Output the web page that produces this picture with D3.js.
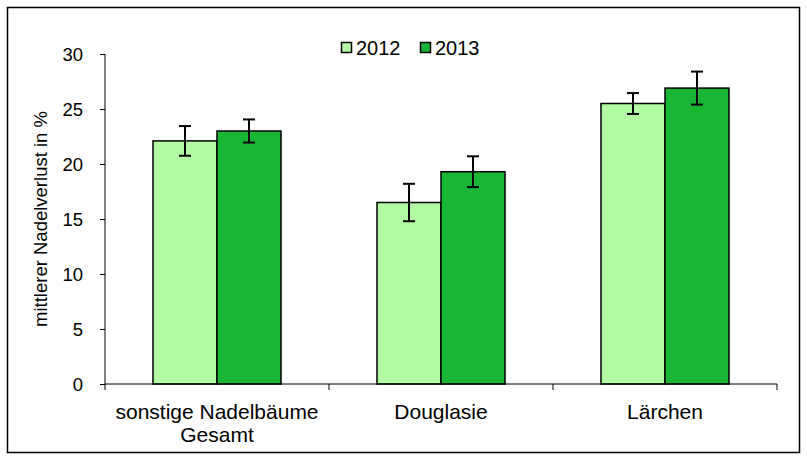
<!DOCTYPE html>
<html>
<head>
<meta charset="utf-8">
<script src="https://cdn.jsdelivr.net/npm/d3@7"></script>
<style>
  body { margin: 0; background: #fff; }
  text { font-family: "Liberation Sans", Arial, sans-serif; fill: #000; }
</style>
</head>
<body>
<div id="chart"></div>
<script>
var categories = [["sonstige Nadelbäume", "Gesamt"], ["Douglasie"], ["Lärchen"]];
var years = ["2012", "2013"];
var values2012 = [22.1, 16.5, 25.5];
var values2013 = [23.0, 19.3, 26.9];
var errors2012 = [1.35, 1.7, 0.95];
var errors2013 = [1.05, 1.4, 1.5];
var yTicks = [0, 5, 10, 15, 20, 25, 30];

var width = 807, height = 459;
var margin = {top: 54, right: 30, bottom: 75, left: 105};
var colors = {"2012": "#b3fba3", "2013": "#19b535"};

var svg = d3.select("#chart")
  .append("svg")
  .attr("width", width)
  .attr("height", height);

svg.append("rect")
  .attr("x", 7.5).attr("y", 7.5)
  .attr("width", 792).attr("height", 445)
  .attr("fill", "none")
  .attr("stroke", "#000")
  .attr("stroke-width", 1.5);

var x = d3.scaleBand()
  .domain(d3.range(categories.length))
  .range([margin.left, 777]);

var x1 = d3.scaleBand()
  .domain(years)
  .range([0, x.bandwidth()])
  .paddingInner(0)
  .paddingOuter(0.75);

var y = d3.scaleLinear()
  .domain([0, 30])
  .range([height - margin.bottom, margin.top]);

var series = [
  {year: "2012", values: values2012, errors: errors2012},
  {year: "2013", values: values2013, errors: errors2013}
];

var g = svg.append("g");

series.forEach(function (s) {
  var rows = s.values.map(function (v, i) { return {i: i, v: v, e: s.errors[i]}; });

  g.selectAll(".bar" + s.year)
    .data(rows)
    .enter().append("rect")
    .attr("x", function (d) { return x(d.i) + x1(s.year); })
    .attr("y", function (d) { return y(d.v); })
    .attr("width", x1.bandwidth())
    .attr("height", function (d) { return y(0) - y(d.v); })
    .attr("fill", colors[s.year])
    .attr("stroke", "#000")
    .attr("stroke-width", 1.5);

  var err = g.selectAll(".err" + s.year)
    .data(rows)
    .enter().append("g")
    .attr("stroke", "#000")
    .attr("stroke-width", 2);

  var cx = function (d) { return x(d.i) + x1(s.year) + x1.bandwidth() / 2; };
  err.append("line")
    .attr("x1", cx).attr("x2", cx)
    .attr("y1", function (d) { return y(d.v + d.e); })
    .attr("y2", function (d) { return y(d.v - d.e); });
  err.append("line")
    .attr("x1", function (d) { return cx(d) - 6; })
    .attr("x2", function (d) { return cx(d) + 6; })
    .attr("y1", function (d) { return y(d.v + d.e); })
    .attr("y2", function (d) { return y(d.v + d.e); });
  err.append("line")
    .attr("x1", function (d) { return cx(d) - 6; })
    .attr("x2", function (d) { return cx(d) + 6; })
    .attr("y1", function (d) { return y(d.v - d.e); })
    .attr("y2", function (d) { return y(d.v - d.e); });
});

// y axis
var yAxis = svg.append("g")
  .attr("transform", "translate(" + margin.left + ",0)")
  .call(d3.axisLeft(y).tickValues(yTicks).tickSize(5).tickPadding(17));
yAxis.selectAll("text").style("font-size", "18.5px").attr("dy", "0.36em");
yAxis.select(".domain").attr("d", "M0," + y(30) + "V" + y(0));

// x axis
var xAxis = svg.append("g")
  .attr("transform", "translate(0," + y(0) + ")");
xAxis.append("line")
  .attr("x1", margin.left).attr("x2", 777)
  .attr("stroke", "#000");
xAxis.selectAll(".tick")
  .data(d3.range(categories.length + 1))
  .enter().append("line")
  .attr("x1", function (d) { return margin.left + d * x.step(); })
  .attr("x2", function (d) { return margin.left + d * x.step(); })
  .attr("y1", 0).attr("y2", 6)
  .attr("stroke", "#000");

var labels = xAxis.selectAll(".lab")
  .data(categories)
  .enter().append("text")
  .attr("text-anchor", "middle")
  .style("font-size", "20px")
  .attr("transform", function (d, i) { return "translate(" + (x(i) + x.bandwidth() / 2) + ",0) scale(1.05,1)"; });
labels.selectAll("tspan")
  .data(function (d) { return d; })
  .enter().append("tspan")
  .attr("x", 0)
  .attr("y", function (d, j) { return 35 + j * 23; })
  .text(function (d) { return d; });

svg.append("text")
  .attr("transform", "translate(47," + ((y(0) + y(30)) / 2) + ") rotate(-90)")
  .attr("text-anchor", "middle")
  .style("font-size", "18.5px")
  .text("mittlerer Nadelverlust in %");

// legend
var legend = svg.append("g");
var lx = [341, 420];
years.forEach(function (yr, i) {
  legend.append("rect")
    .attr("x", lx[i] + 0.5).attr("y", 42.5)
    .attr("width", 10).attr("height", 10)
    .attr("fill", colors[yr])
    .attr("stroke", "#000")
    .attr("stroke-width", 1.5);
  legend.append("text")
    .attr("x", lx[i] + 15).attr("y", 55)
    .style("font-size", "20px")
    .text(yr);
});
</script>
</body>
</html>
